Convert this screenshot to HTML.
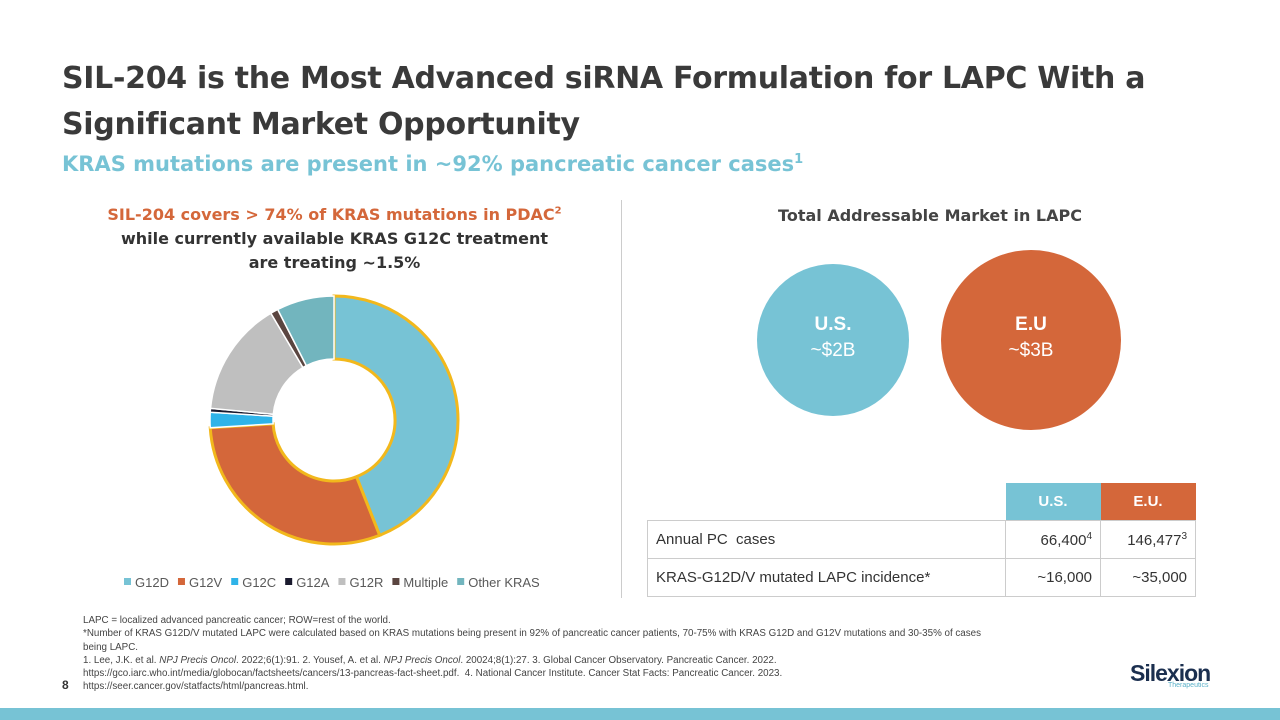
<!DOCTYPE html>
<html><head><meta charset="utf-8">
<style>
body{margin:0;width:1280px;height:720px;overflow:hidden;background:#fff;font-family:"Liberation Sans","DejaVu Sans",sans-serif;position:relative}
.abs{position:absolute}
h1{position:absolute;left:62px;top:56px;margin:0;font-size:30px;line-height:46px;font-weight:bold;color:#3a3a3a;font-family:"DejaVu Sans","Liberation Sans",sans-serif;letter-spacing:-0.3px}
table{border-collapse:collapse;font-size:15px;color:#333}
td{border:1px solid #ccc;height:37px;padding:0 8px}
</style></head><body>
<h1>SIL-204 is the Most Advanced siRNA Formulation for LAPC With a<br>Significant Market Opportunity</h1>
<div class="abs" style="left:62px;top:152px;font-size:21px;font-weight:bold;color:#77c3d5;font-family:'DejaVu Sans',sans-serif">KRAS mutations are present in ~92% pancreatic cancer cases<sup style="font-size:13px">1</sup></div>
<div class="abs" style="left:62px;top:200px;width:545px;text-align:center;font-size:16px;font-weight:bold;line-height:24px;color:#333;font-family:'DejaVu Sans',sans-serif"><span style="color:#d4673a">SIL-204 covers &gt; 74% of KRAS mutations in PDAC<sup style="font-size:10px">2</sup></span><br>while currently available KRAS G12C treatment<br>are treating ~1.5%</div>
<div class="abs" style="left:621px;top:200px;width:1px;height:398px;background:#ccc"></div>
<svg class="abs" id="donut" style="left:0;top:0" width="640" height="600"></svg>
<div class="abs" style="left:760px;top:206px;width:340px;text-align:center;font-size:16px;font-weight:bold;color:#444;font-family:'DejaVu Sans',sans-serif">Total Addressable Market in LAPC</div>
<div class="abs" style="left:757px;top:264px;width:152px;height:152px;border-radius:50%;background:#77c3d5;color:#fff;text-align:center;font-size:19px;line-height:26px"><div style="margin-top:48px"><b>U.S.</b><br>~$2B</div></div>
<div class="abs" style="left:941px;top:250px;width:180px;height:180px;border-radius:50%;background:#d4673a;color:#fff;text-align:center;font-size:19px;line-height:26px"><div style="margin-top:62px"><b>E.U</b><br>~$3B</div></div>
<table class="abs" style="left:647px;top:483px">
<tr><td style="border:none;width:342px"></td><td style="background:#77c3d5;color:#fff;font-weight:bold;text-align:center;width:79px;border:none">U.S.</td><td style="background:#d4673a;color:#fff;font-weight:bold;text-align:center;width:79px;border:none">E.U.</td></tr>
<tr><td>Annual PC&nbsp; cases</td><td style="text-align:right">66,400<sup style="font-size:10px">4</sup></td><td style="text-align:right">146,477<sup style="font-size:10px">3</sup></td></tr>
<tr><td>KRAS-G12D/V mutated LAPC incidence*</td><td style="text-align:right">~16,000</td><td style="text-align:right">~35,000</td></tr>
</table>
<div class="abs" style="left:83px;top:614px;width:1060px;font-size:9.8px;line-height:13.3px;color:#444">LAPC = localized advanced pancreatic cancer; ROW=rest of the world.<br>*Number of KRAS G12D/V mutated LAPC were calculated based on KRAS mutations being present in 92% of pancreatic cancer patients, 70-75% with KRAS G12D and G12V mutations and 30-35% of cases<br>being LAPC.<br>1. Lee, J.K. et al. <i>NPJ Precis Oncol</i>. 2022;6(1):91. 2. Yousef, A. et al. <i>NPJ Precis Oncol</i>. 20024;8(1):27. 3. Global Cancer Observatory. Pancreatic Cancer. 2022.<br>https://gco.iarc.who.int/media/globocan/factsheets/cancers/13-pancreas-fact-sheet.pdf.&nbsp; 4. National Cancer Institute. Cancer Stat Facts: Pancreatic Cancer. 2023.<br>https://seer.cancer.gov/statfacts/html/pancreas.html.</div>
<div class="abs" style="left:62px;top:678px;font-size:12px;font-weight:bold;color:#333">8</div>
<div class="abs" style="left:1130px;top:660px;font-size:23px;font-weight:bold;color:#1b2f4f;letter-spacing:-1px;line-height:26px">Silexion<div style="font-size:7px;color:#5ab0c8;font-weight:normal;letter-spacing:0;margin-left:38px;margin-top:-4px;line-height:8px">Therapeutics</div></div>
<div class="abs" style="left:0;top:708px;width:1280px;height:12px;background:#77c3d5"></div>
<script>
const categories=["G12D","G12V","G12C","G12A","G12R","Multiple","Other KRAS"];
const values=[44,30,2,0.5,15,1,7.5];
const colors=["#77c3d5","#d4673a","#2fb3e8","#1a1a2e","#bfbfbf","#5a4540","#72b5be"];
const highlighted=[true,true,false,false,false,false,false];
const svg=document.getElementById('donut');const NS="http://www.w3.org/2000/svg";
const cx=334,cy=420,ro=124,ri=61;
const total=values.reduce((a,b)=>a+b,0);
function pt(a,r){return [cx+r*Math.sin(a),cy-r*Math.cos(a)];}
let acc=0;
values.forEach((v,i)=>{
 const a0=acc/total*2*Math.PI;acc+=v;const a1=acc/total*2*Math.PI;
 const lg=(a1-a0)>Math.PI?1:0;
 const p1=pt(a0,ro),p2=pt(a1,ro),p3=pt(a1,ri),p4=pt(a0,ri);
 const p=document.createElementNS(NS,'path');
 p.setAttribute('d',`M${p1}A${ro},${ro} 0 ${lg} 1 ${p2}L${p3}A${ri},${ri} 0 ${lg} 0 ${p4}Z`);
 p.setAttribute('fill',colors[i]);
 p.setAttribute('stroke',highlighted[i]?'#f2b81c':'#fff');
 p.setAttribute('stroke-width',highlighted[i]?3:1.5);
 
 
 svg.appendChild(p);
});
let lx=124;
categories.forEach((c,i)=>{
 const r=document.createElementNS(NS,'rect');
 r.setAttribute('x',lx);r.setAttribute('y',578);r.setAttribute('width',7);r.setAttribute('height',7);r.setAttribute('fill',colors[i]);
 
 
 svg.appendChild(r);
 const t=document.createElementNS(NS,'text');
 t.setAttribute('x',lx+11);t.setAttribute('y',587);t.setAttribute('font-size','13');t.setAttribute('fill','#595959');
 t.setAttribute('font-family','Liberation Sans, sans-serif');t.textContent=c;
 
 
 svg.appendChild(t);
 lx+=11+t.getComputedTextLength()+9;
});
</script>
</body></html>
